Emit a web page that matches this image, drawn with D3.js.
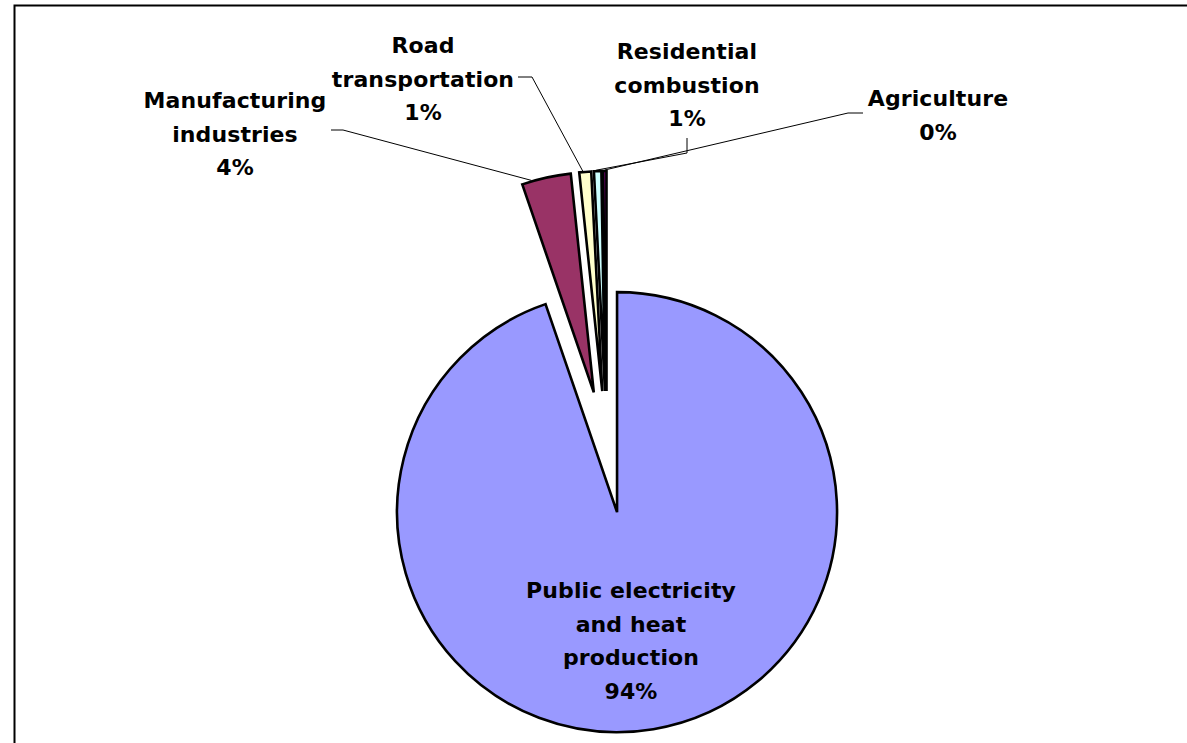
<!DOCTYPE html>
<html>
<head>
<meta charset="utf-8">
<script src="https://cdn.jsdelivr.net/npm/d3@7"></script>
<style>
html,body{margin:0;padding:0;background:#fff;}
svg{display:block;}
</style>
</head>
<body>
<svg id="chart" width="1187" height="743"></svg>
<script>
// ---- data ----
const categories = ["Public electricity and heat production", "Manufacturing industries", "Road transportation", "Residential combustion", "Agriculture"];
const values = [94.73, 3.6, 0.87, 0.54, 0.26];
const percentLabels = ["94%", "4%", "1%", "1%", "0%"];
const labelLines = [
  ["Public electricity", "and heat", "production", "94%"],
  ["Manufacturing", "industries", "4%"],
  ["Road", "transportation", "1%"],
  ["Residential", "combustion", "1%"],
  ["Agriculture", "0%"]
];
const colors = ["#9999FF", "#993366", "#FFFFCC", "#CCFFFF", "#660066"];

// ---- layout ----
const svg = d3.select("#chart");
const cx = 607, cy = 452, R = 220, explode = 61;

svg.append("rect").attr("x", 14.5).attr("y", 5.5).attr("width", 1300).attr("height", 900)
  .attr("fill", "#fff").attr("stroke", "#000").attr("stroke-width", 2);

const data = categories.map((c, i) => ({name: c, value: values[i], color: colors[i], lines: labelLines[i]}));
const pie = d3.pie().sort(null).value(d => d.value).startAngle(0).endAngle(2 * Math.PI);
const arcs = pie(data);
const arc = d3.arc().innerRadius(0).outerRadius(R);

const g = svg.append("g").attr("transform", `translate(${cx},${cy})`);
g.selectAll("path.slice").data(arcs).enter().append("path")
  .attr("class", "slice")
  .attr("d", arc)
  .attr("transform", d => {
    const m = (d.startAngle + d.endAngle) / 2;
    return `translate(${explode * Math.sin(m)},${-explode * Math.cos(m)})`;
  })
  .attr("fill", d => d.data.color)
  .attr("stroke", "#000")
  .attr("stroke-width", 2.6)
  .attr("stroke-linejoin", "miter")
  .attr("stroke-miterlimit", 6);

// leader lines (label anchor -> slice edge)
function slicePoint(i, frac, r) {
  const d = arcs[i];
  const m = (d.startAngle + d.endAngle) / 2;
  const a = d.startAngle + (d.endAngle - d.startAngle) * frac;
  return [cx + explode * Math.sin(m) + r * Math.sin(a), cy - explode * Math.cos(m) - r * Math.cos(a)];
}
const leaders = [
  {i: 1, pts: [[331, 130], [343, 130]], frac: 0.2},
  {i: 2, pts: [[518, 77], [532, 77]], frac: 0.3},
  {i: 3, pts: [[687, 138], [687, 153]], frac: 0.3},
  {i: 4, pts: [[863, 113], [848, 113]], frac: 0.5}
];
leaders.forEach(l => {
  const end = slicePoint(l.i, l.frac, R + 1);
  svg.append("path")
    .attr("d", d3.line()([...l.pts, end]))
    .attr("fill", "none").attr("stroke", "#000").attr("stroke-width", 1);
});

// labels
const labelPos = [[631, 598], [235, 108], [423, 53], [687, 59], [938, 106]];
const lineH = 33.5;
data.forEach((d, i) => {
  const t = svg.append("text")
    .attr("x", labelPos[i][0]).attr("y", labelPos[i][1])
    .attr("text-anchor", "middle")
    .attr("font-family", "'DejaVu Sans', Verdana, sans-serif")
    .attr("font-weight", "bold")
    .attr("font-size", 22)
    .attr("letter-spacing", 0.1)
    .attr("fill", "#000");
  d.lines.forEach((ln, k) => {
    t.append("tspan").attr("x", labelPos[i][0]).attr("dy", k === 0 ? 0 : lineH).text(ln);
  });
});
</script>
</body>
</html>
